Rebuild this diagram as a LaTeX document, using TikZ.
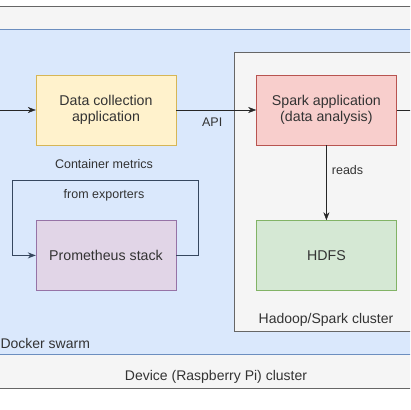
\documentclass[tikz,border=0pt]{standalone}
\usepackage{fontspec}
\setmainfont{Liberation Sans}
\usetikzlibrary{arrows.meta,positioning}

\definecolor{deviceFill}{HTML}{F5F5F5}
\definecolor{deviceLine}{HTML}{666666}
\definecolor{swarmFill}{HTML}{DAE8FC}
\definecolor{swarmLine}{HTML}{6C8EBF}
\definecolor{collectFill}{HTML}{FFF2CC}
\definecolor{collectLine}{HTML}{D6B656}
\definecolor{sparkFill}{HTML}{F8CECC}
\definecolor{sparkLine}{HTML}{B85450}
\definecolor{promFill}{HTML}{E1D5E7}
\definecolor{promLine}{HTML}{9673A6}
\definecolor{hdfsFill}{HTML}{D5E8D4}
\definecolor{hdfsLine}{HTML}{82B366}
\definecolor{textGray}{HTML}{333333}

\tikzset{
    block/.style={draw, minimum width=140pt, minimum height=70pt,
        align=center, text=textGray, font=\fontsize{14.2}{16}\selectfont},
    caption/.style={text=textGray, font=\fontsize{14}{16}\selectfont},
    edgelabel/.style={text=textGray, font=\fontsize{12.5}{14}\selectfont},
    flow/.style={-{Stealth[length=8pt,width=6pt]}, color=black!85},
}

\begin{document}
\begin{tikzpicture}[x=1pt, y=-1pt]
    \useasboundingbox (0,0) rectangle (410,410);
    \clip (0,0) rectangle (410,410);

    % outer clusters
    \draw[fill=deviceFill, draw=deviceLine, line width=1pt] (-30,6) rectangle (440,388);
    \draw[fill=swarmFill, draw=swarmLine] (-30,29) rectangle (440,354);
    \draw[fill=deviceFill, draw=deviceLine] (234,52) rectangle (440,331);

    % blocks
    \node[block, fill=collectFill, draw=collectLine] (collect) at (106,110) {Data collection\\application};
    \node[block, fill=sparkFill, draw=sparkLine, right=80pt of collect] (spark) {Spark application\\(data analysis)};
    \node[block, fill=promFill, draw=promLine, below=75pt of collect] (prom) {Prometheus stack};
    \node[block, fill=hdfsFill, draw=hdfsLine, below=75pt of spark] (hdfs) {HDFS};

    % cluster captions
    \node[caption, anchor=west] (swarmlbl) at (-3,343) {Docker swarm};
    \node[caption] (hadooplbl) at (326,320) {Hadoop/Spark cluster};
    \node[caption] (devicelbl) at (216,377) {Device (Raspberry Pi) cluster};

    % connectors
    \coordinate (inlet) at (-10,110);
    \coordinate (outlet) at (420,110);
    \draw[flow] (inlet) -- (collect.west);
    \draw[flow] (collect.east) -- node[edgelabel, below=4pt, pos=0.45] {API} (spark.west);
    \draw[flow] (spark.east) -- (outlet);
    \draw[flow] (spark) -- node[edgelabel, right=2pt, pos=0.33] {reads} (hdfs);

    % metrics loop
    \coordinate (loopR) at (198,180);
    \coordinate (loopL) at (12,180);
    \draw[-{Stealth[length=8pt,width=6pt]}, color=black!50!swarmLine, line width=1pt]
        (prom.east) -| (loopR) -- (loopL) |- (prom.west);
    \node[edgelabel] (metricslbl) at (104,164) {Container metrics};
    \node[edgelabel] (exportlbl) at (104,195) {from exporters};
\end{tikzpicture}
\end{document}
